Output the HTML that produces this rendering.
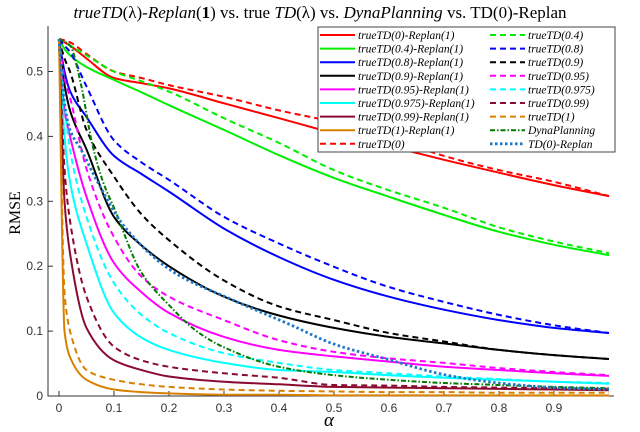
<!DOCTYPE html>
<html><head><meta charset="utf-8"><style>
body{margin:0;background:#fff;}
svg{display:block;font-family:"Liberation Serif",serif;}
</style></head><body>
<svg id="chart" width="640" height="432" viewBox="0 0 640 432">
<text x="320" y="18" text-anchor="middle" font-size="17"><tspan font-style="italic">trueTD</tspan>(λ)-<tspan font-style="italic">Replan</tspan>(<tspan font-weight="bold">1</tspan>) vs. true <tspan font-style="italic">TD</tspan>(λ) vs. <tspan font-style="italic">DynaPlanning</tspan> vs. TD(0)-Replan</text>
<g id="axes"></g>
<g id="series"></g>
<g id="legend"></g>
<text x="20" y="213" transform="rotate(-90 20 213)" text-anchor="middle" font-size="16">RMSE</text>
<text x="329" y="426" text-anchor="middle" font-size="19" font-style="italic">α</text>
</svg>
<script>
const alphas=[0,0.01,0.02,0.05,0.1,0.15,0.2,0.3,0.4,0.5,0.6,0.7,0.8,0.9,1.0];
const redSolid=[0.55,0.545,0.54,0.52,0.49,0.482,0.474,0.451,0.428,0.405,0.385,0.364,0.344,0.325,0.308];
const redDash=[0.55,0.548,0.545,0.527,0.5,0.49,0.479,0.461,0.44,0.422,0.398,0.37,0.348,0.33,0.308];
const greenSolid=[0.55,0.535,0.525,0.507,0.487,0.468,0.448,0.41,0.371,0.336,0.307,0.279,0.253,0.233,0.217];
const greenDash=[0.55,0.545,0.54,0.525,0.5,0.485,0.469,0.428,0.39,0.348,0.317,0.29,0.26,0.238,0.22];
const blueSolid=[0.55,0.5,0.47,0.43,0.37,0.342,0.315,0.258,0.214,0.179,0.153,0.133,0.117,0.105,0.097];
const blueDash=[0.55,0.54,0.53,0.477,0.394,0.36,0.333,0.276,0.235,0.199,0.168,0.145,0.125,0.109,0.097];
const blackSolid=[0.55,0.48,0.44,0.38,0.276,0.232,0.2,0.153,0.124,0.105,0.091,0.081,0.071,0.063,0.057];
const blackDash=[0.55,0.52,0.5,0.41,0.338,0.28,0.24,0.178,0.138,0.117,0.097,0.084,0.071,0.063,0.057];
const magentaSolid=[0.55,0.44,0.4,0.307,0.205,0.16,0.128,0.091,0.071,0.061,0.053,0.045,0.04,0.035,0.031];
const magentaDash=[0.55,0.49,0.46,0.35,0.245,0.184,0.153,0.117,0.086,0.068,0.058,0.051,0.043,0.037,0.032];
const cyanSolid=[0.55,0.4,0.33,0.235,0.128,0.09,0.071,0.051,0.04,0.037,0.032,0.028,0.025,0.022,0.019];
const cyanDash=[0.55,0.45,0.38,0.276,0.174,0.125,0.097,0.066,0.051,0.04,0.035,0.03,0.026,0.022,0.02];
const darkredSolid=[0.55,0.3,0.22,0.105,0.055,0.04,0.03,0.022,0.018,0.014,0.013,0.012,0.011,0.01,0.009];
const darkredDash=[0.55,0.35,0.27,0.153,0.076,0.055,0.045,0.035,0.028,0.017,0.016,0.014,0.013,0.012,0.011];
const orangeSolid=[0.55,0.1,0.06,0.025,0.01,0.006,0.004,0.002,0.002,0.001,0.001,0.001,0.001,0.001,0.001];
const orangeDash=[0.55,0.16,0.1,0.04,0.025,0.018,0.014,0.01,0.008,0.007,0.006,0.006,0.005,0.005,0.005];
const dynaAlphas=[0,0.02,0.04,0.06,0.08,0.1,0.15,0.2,0.25,0.3,0.4,0.5,0.6,0.7,0.8,0.9,1.0];
const dynaValues=[0.55,0.54,0.48,0.39,0.33,0.29,0.19,0.14,0.1,0.075,0.045,0.032,0.025,0.02,0.017,0.014,0.012];
const td0Alphas=[0,0.01,0.02,0.04,0.07,0.12,0.21,0.31,0.42,0.5,0.6,0.7,0.8,0.9,1.0];
const td0Values=[0.55,0.45,0.41,0.38,0.33,0.26,0.19,0.15,0.11,0.08,0.056,0.033,0.02,0.013,0.01];
const xTicks=[0,0.1,0.2,0.3,0.4,0.5,0.6,0.7,0.8,0.9];
const yTicks=[0,0.1,0.2,0.3,0.4,0.5];

const NS="http://www.w3.org/2000/svg";
const X0=59,XS=550,Y0=396,YS=649;
function xs(a){return X0+a*XS;}
function ys(v){return Y0-v*YS;}
function mk(tag,attrs,parent){const e=document.createElementNS(NS,tag);for(const k in attrs)e.setAttribute(k,attrs[k]);parent.appendChild(e);return e;}

const axes=document.getElementById('axes');
const ax=mk('path',{d:'M48,26V396H614',stroke:'#333',fill:'none','stroke-width':1},axes);


xTicks.forEach(t=>{
  const tk=mk('line',{x1:xs(t),x2:xs(t),y1:396,y2:391,stroke:'#333'},axes);
  
  
  const lb=mk('text',{x:xs(t),y:412,'text-anchor':'middle','font-size':12,fill:'#333','font-family':'Liberation Sans, sans-serif'},axes);
  lb.textContent=t===0?'0':String(t);
  
  
});
yTicks.forEach(t=>{
  const tk=mk('line',{x1:48,x2:53,y1:ys(t),y2:ys(t),stroke:'#333'},axes);
  
  
  const lb=mk('text',{x:43,y:ys(t)+4,'text-anchor':'end','font-size':12,fill:'#333','font-family':'Liberation Sans, sans-serif'},axes);
  lb.textContent=t===0?'0':String(t);
  
  
});

// monotone cubic (Fritsch-Carlson) path
function pathFor(xa,va){
  const X=xa.map(xs),Y=va.map(ys),n=X.length;
  const d=[],m=new Array(n);
  for(let i=0;i<n-1;i++)d.push((Y[i+1]-Y[i])/(X[i+1]-X[i]));
  m[0]=d[0];m[n-1]=d[n-2];
  for(let i=1;i<n-1;i++){
    if(d[i-1]*d[i]<=0)m[i]=0;
    else{const h0=X[i]-X[i-1],h1=X[i+1]-X[i];const w1=2*h1+h0,w2=h1+2*h0;m[i]=(w1+w2)/(w1/d[i-1]+w2/d[i]);}
  }
  let s='M'+X[0].toFixed(1)+','+Y[0].toFixed(1);
  for(let i=0;i<n-1;i++){
    const h=(X[i+1]-X[i])/3;
    s+='C'+(X[i]+h).toFixed(1)+','+(Y[i]+m[i]*h).toFixed(1)+' '+(X[i+1]-h).toFixed(1)+','+(Y[i+1]-m[i+1]*h).toFixed(1)+' '+X[i+1].toFixed(1)+','+Y[i+1].toFixed(1);
  }
  return s;
}
const SOLID='',DASH='6,4',DOT='2.5,2.5',DASHDOT='5,2,1.5,2';
const seriesList=[
 ['true-td-0-replan',alphas,redSolid,'#ff0000',SOLID],
 ['true-td-0-4-replan',alphas,greenSolid,'#00ee00',SOLID],
 ['true-td-0-8-replan',alphas,blueSolid,'#0000ff',SOLID],
 ['true-td-0-9-replan',alphas,blackSolid,'#000000',SOLID],
 ['true-td-0-95-replan',alphas,magentaSolid,'#ff00ff',SOLID],
 ['true-td-0-975-replan',alphas,cyanSolid,'#00ffff',SOLID],
 ['true-td-0-99-replan',alphas,darkredSolid,'#8b0a30',SOLID],
 ['true-td-1-replan',alphas,orangeSolid,'#d98000',SOLID],
 ['true-td-0',alphas,redDash,'#ff0000',DASH],
 ['true-td-0-4',alphas,greenDash,'#00ee00',DASH],
 ['true-td-0-8',alphas,blueDash,'#0000ff',DASH],
 ['true-td-0-9',alphas,blackDash,'#000000',DASH],
 ['true-td-0-95',alphas,magentaDash,'#ff00ff',DASH],
 ['true-td-0-975',alphas,cyanDash,'#00ffff',DASH],
 ['true-td-0-99',alphas,darkredDash,'#8b0a30',DASH],
 ['true-td-1',alphas,orangeDash,'#d98000',DASH],
 ['dyna-planning',dynaAlphas,dynaValues,'#007a00',DASHDOT],
 ['td0-replan',td0Alphas,td0Values,'#1f77c8',DOT]
];
const sg=document.getElementById('series');
seriesList.forEach(s=>{
  const p=mk('path',{d:pathFor(s[1],s[2]),stroke:s[3],fill:'none','stroke-width':s[4]===DOT?2.8:2,'stroke-dasharray':s[4]},sg);
  
  
});

const lg=document.getElementById('legend');
const box=mk('rect',{x:318,y:27,width:297,height:125,fill:'#fff',stroke:'#444','stroke-width':1},lg);


const leftLabels=['trueTD(0)-Replan(1)','trueTD(0.4)-Replan(1)','trueTD(0.8)-Replan(1)','trueTD(0.9)-Replan(1)','trueTD(0.95)-Replan(1)','trueTD(0.975)-Replan(1)','trueTD(0.99)-Replan(1)','trueTD(1)-Replan(1)','trueTD(0)'];
const rightLabels=['trueTD(0.4)','trueTD(0.8)','trueTD(0.9)','trueTD(0.95)','trueTD(0.975)','trueTD(0.99)','trueTD(1)','DynaPlanning','TD(0)-Replan'];
const leftIdx=[0,1,2,3,4,5,6,7,8], rightIdx=[9,10,11,12,13,14,15,16,17];
function entry(x,y,s,lab){
  const g=mk('g',{},lg);
  
  
  mk('line',{x1:x,x2:x+35,y1:y,y2:y,stroke:s[3],'stroke-width':s[4]===DOT?2.8:2,'stroke-dasharray':s[4]},g);
  const t=mk('text',{x:x+38,y:y+4,'font-size':11.5,'font-style':'italic'},g);
  t.textContent=lab;
}
leftIdx.forEach((si,i)=>entry(320,35+i*13.6,seriesList[si],leftLabels[i]));
rightIdx.forEach((si,i)=>entry(490,35+i*13.6,seriesList[si],rightLabels[i]));
</script>
</body></html>
